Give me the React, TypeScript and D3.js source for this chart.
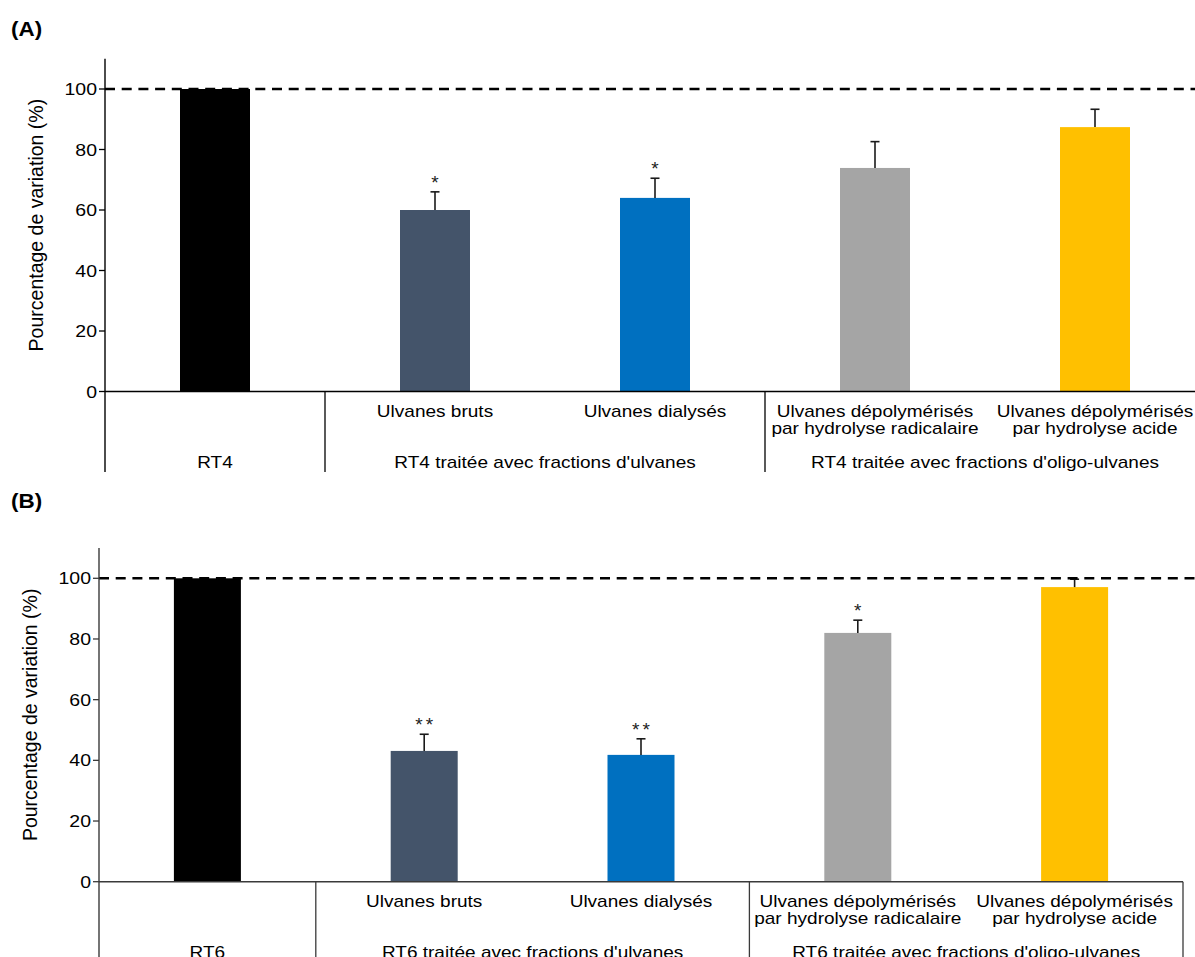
import React from "react";
import * as d3 from "d3";

const barLabels1 = ["", "Ulvanes bruts", "Ulvanes dialysés", "Ulvanes dépolymérisés", "Ulvanes dépolymérisés"];
const barLabels2 = ["", "", "", "par hydrolyse radicalaire", "par hydrolyse acide"];
const colors = ["#000000", "#44546A", "#0070C0", "#A5A5A5", "#FFC000"];
const yTicks = [0, 20, 40, 60, 80, 100];

const groupsA = ["RT4", "RT4 traitée avec fractions d'ulvanes", "RT4 traitée avec fractions d'oligo-ulvanes"];
const valuesA = [100, 60.0, 64.0, 73.9, 87.4];
const errA = [0, 6.0, 6.5, 8.7, 5.9];
const sigA = ["", "*", "*", "", ""];

const groupsB = ["RT6", "RT6 traitée avec fractions d'ulvanes", "RT6 traitée avec fractions d'oligo-ulvanes"];
const valuesB = [100, 43.1, 41.8, 82.0, 97.1];
const errB = [0, 5.5, 5.3, 4.2, 2.6];
const sigB = ["", "**", "**", "*", ""];

const groupSpans = [[0, 1], [1, 3], [3, 5]];

const FONT = "'Liberation Sans', Arial, Helvetica, sans-serif";
const SX = 1.12;

function T({ x, y, children, size = 17, anchor = "middle", sx = SX, weight = "normal", fill = "#000" }: any) {
  return (
    <text
      transform={`translate(${x},${y}) scale(${sx},1)`}
      textAnchor={anchor}
      fontSize={size}
      fontFamily={FONT}
      fontWeight={weight}
      fill={fill}
    >
      {children}
    </text>
  );
}

function Panel({ letter, letterY, x0, band, zero, top, bottom, barW, values, errs, sigs, groups, rightBorder, axisColor }: any) {
  const n = values.length;
  const x = d3.scaleBand<number>().domain(d3.range(n)).range([x0, x0 + band * n]).paddingInner(0).paddingOuter(0);
  const y = d3.scaleLinear().domain([0, 110]).range([zero, top]);
  const xEnd = x0 + band * n;
  const axisRight = rightBorder ? xEnd : 1195;
  return (
    <g>
      <T x={11} y={letterY} size={19.5} anchor="start" weight="bold" sx={1.15}>{letter}</T>
      {values.map((v: number, i: number) => {
        const cx = (x(i) as number) + band / 2;
        return (
          <rect key={"b" + i} x={cx - barW / 2} y={y(v)} width={barW} height={zero - y(v)} fill={colors[i]} />
        );
      })}
      {values.map((v: number, i: number) => {
        if (!errs[i]) return null;
        const cx = (x(i) as number) + band / 2;
        const yt = y(v + errs[i]);
        return (
          <g key={"e" + i} stroke="#1a1a1a" strokeWidth={1.6}>
            <line x1={cx} x2={cx} y1={y(v)} y2={yt} />
            <line x1={cx - 4.5} x2={cx + 4.5} y1={yt} y2={yt} />
          </g>
        );
      })}
      {values.map((v: number, i: number) => {
        if (!sigs[i]) return null;
        const cx = (x(i) as number) + band / 2;
        const yt = y(v + errs[i]);
        return (
          <text key={"s" + i} x={cx} y={yt - 3} textAnchor="middle" fontSize={19} fontFamily={FONT} fill="#222" letterSpacing={sigs[i].length > 1 ? 3 : 0} dx={sigs[i].length > 1 ? 1.5 : 0}>
            {sigs[i]}
          </text>
        );
      })}
      <line x1={x0} x2={1195} y1={y(100)} y2={y(100)} stroke="#000" strokeWidth={2.6} strokeDasharray="10,6.7" />
      <line x1={x0} x2={x0} y1={top} y2={bottom} stroke={axisColor} strokeWidth={1.4} />
      {yTicks.map((t) => (
        <g key={"t" + t}>
          <line x1={x0 - 6} x2={x0} y1={y(t)} y2={y(t)} stroke={axisColor} strokeWidth={1.3} />
          <T x={x0 - 8} y={y(t) + 6} size={16.5} anchor="end" sx={1.18}>{t}</T>
        </g>
      ))}
      <line x1={x0} x2={axisRight} y1={zero} y2={zero} stroke={axisColor} strokeWidth={1.6} />
      {groupSpans.map((s, gi) =>
        gi === 0 ? null : (
          <line key={"d" + gi} x1={x0 + band * s[0]} x2={x0 + band * s[0]} y1={zero} y2={bottom} stroke={axisColor} strokeWidth={1.3} />
        )
      )}
      {rightBorder && <line x1={xEnd} x2={xEnd} y1={zero} y2={bottom} stroke={axisColor} strokeWidth={1.3} />}
      {values.map((v: number, i: number) => {
        const cx = (x(i) as number) + band / 2;
        return (
          <g key={"l" + i}>
            {barLabels1[i] && <T x={cx} y={zero + 25.5}>{barLabels1[i]}</T>}
            {barLabels2[i] && <T x={cx} y={zero + 42.5}>{barLabels2[i]}</T>}
          </g>
        );
      })}
      {groups.map((g: string, gi: number) => {
        const s = groupSpans[gi];
        const cx = x0 + band * (s[0] + s[1]) / 2;
        return <T key={"g" + gi} x={cx} y={zero + 76}>{g}</T>;
      })}
      <text
        transform={`translate(${x0 - 62},${(zero + top) / 2}) rotate(-90)`}
        textAnchor="middle"
        fontSize={19.5}
        fontFamily={FONT}
        fill="#000"
      >
        Pourcentage de variation (%)
      </text>
    </g>
  );
}

export default function App() {
  return (
    <svg width={1195} height={957} style={{ position: "absolute", left: 0, top: 0, background: "#fff" }}>
      <rect width={1195} height={957} fill="#fff" />
      <Panel
        letter="(A)"
        letterY={36}
        x0={105}
        band={220}
        zero={391.5}
        top={391.5 - 3.025 * 110}
        bottom={472}
        barW={70}
        values={valuesA}
        errs={errA}
        sigs={sigA}
        groups={groupsA}
        rightBorder={false}
        axisColor="#000"
      />
      <Panel
        letter="(B)"
        letterY={508}
        x0={99}
        band={216.8}
        zero={881.7}
        top={881.7 - 3.034 * 110}
        bottom={957}
        barW={67}
        values={valuesB}
        errs={errB}
        sigs={sigB}
        groups={groupsB}
        rightBorder={true}
        axisColor="#3a3a3a"
      />
    </svg>
  );
}
